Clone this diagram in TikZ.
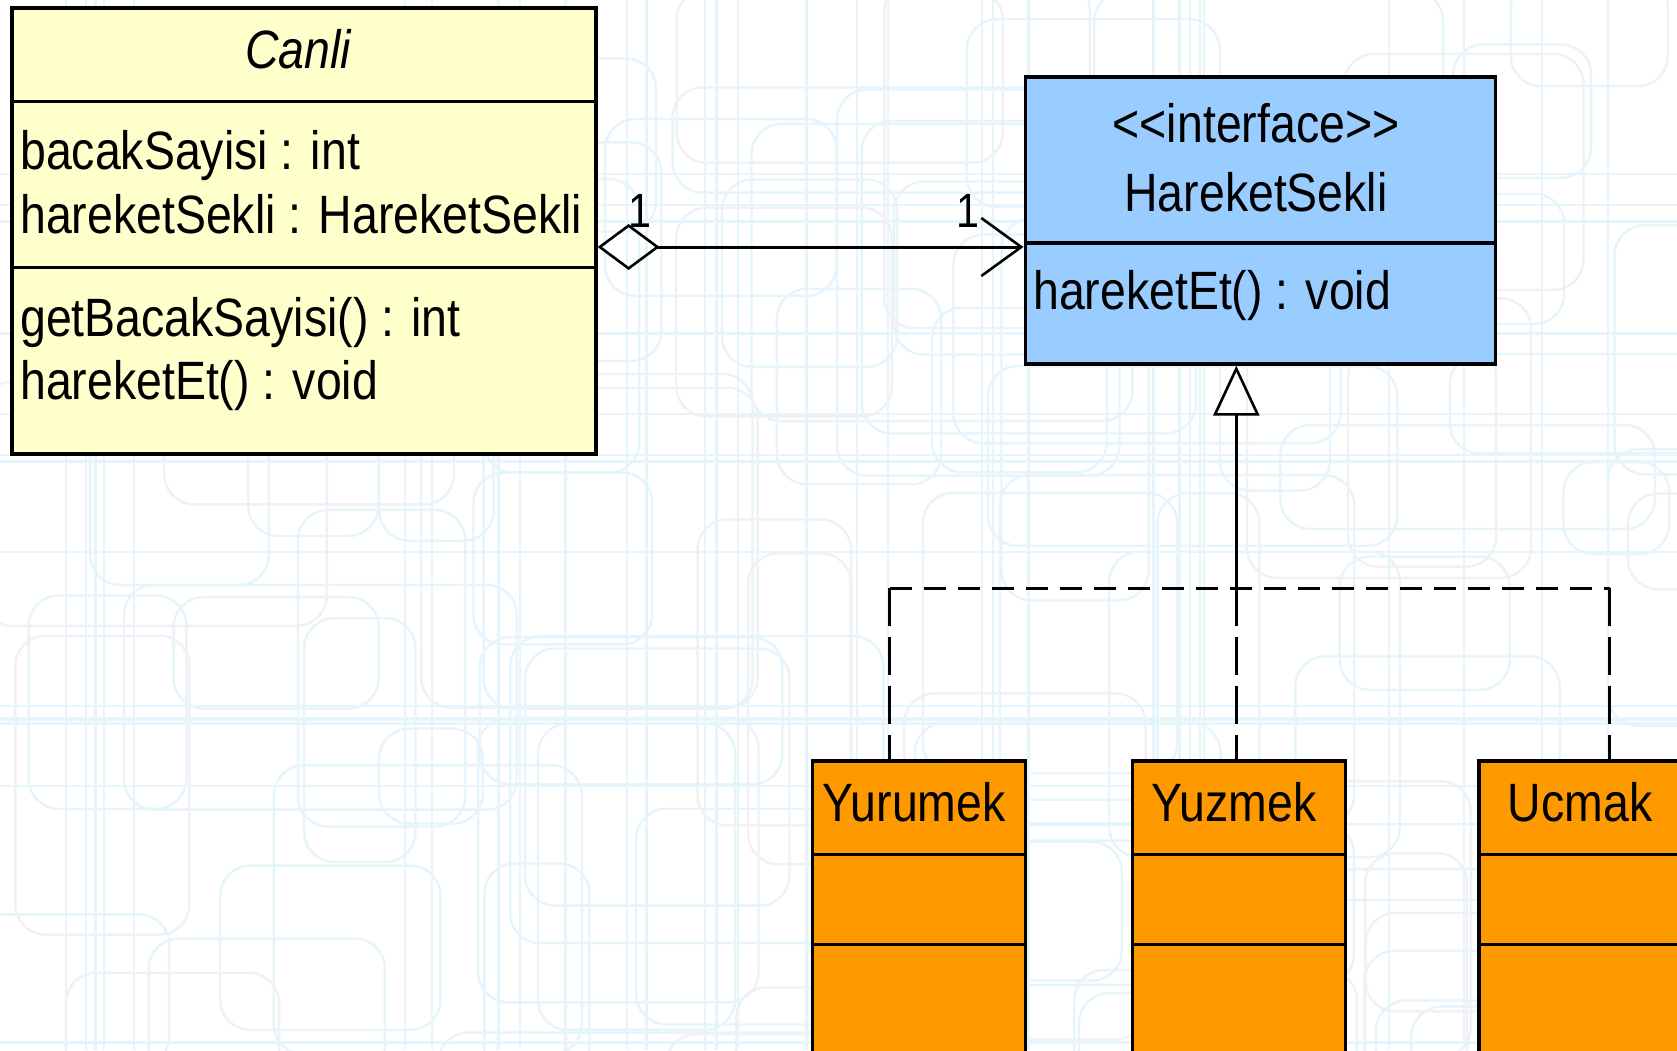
\documentclass[tikz,border=0pt]{standalone}
\usepackage{fontspec}
\setmainfont{Liberation Sans}[FakeStretch=0.86]
\usetikzlibrary{arrows.meta}
\definecolor{canlifill}{HTML}{FFFFCC}
\definecolor{ifill}{HTML}{99CCFF}
\definecolor{ofill}{HTML}{FF9900}
\definecolor{bgline}{HTML}{E6F4FB}
\definecolor{bggray}{HTML}{F1F0F4}
\begin{document}
\begin{tikzpicture}[x=1pt,y=-1pt,
  classbox/.style={draw,line width=3.6pt,anchor=north west,inner sep=0pt},
  sepline/.style={line width=3.6pt},
  txt/.style={font=\fontsize{54}{64}\selectfont,inner sep=0pt,anchor=base west},
  ctxt/.style={font=\fontsize{54}{64}\selectfont,inner sep=0pt,anchor=base},
  conn/.style={line width=3pt},
  bgrect/.style={bgline,line width=2.4pt,rounded corners=30pt}]
\useasboundingbox (0,0) rectangle (1677,1050);
\clip (0,0) rectangle (1677,1050);
\fill[white] (0,0) rectangle (1677,1050);
% decorative background
\pgfmathsetseed{11}
\foreach \i in {1,...,70}{
  \pgfmathsetmacro\bx{rnd*1700-40}
  \pgfmathsetmacro\by{rnd*1080-30}
  \pgfmathsetmacro\bw{100+rnd*320}
  \pgfmathsetmacro\bh{90+rnd*320}
  \draw[bgrect] (\bx,\by) rectangle ++(\bw,\bh);
}
\pgfmathsetseed{23}
\foreach \i in {1,...,20}{
  \pgfmathsetmacro\bx{rnd*1700-40}
  \pgfmathsetmacro\by{rnd*1080-30}
  \pgfmathsetmacro\bw{100+rnd*260}
  \pgfmathsetmacro\bh{90+rnd*260}
  \draw[bgrect,bggray] (\bx,\by) rectangle ++(\bw,\bh);
}
\pgfmathsetseed{5}
\foreach \i in {1,...,30}{
  \pgfmathsetmacro\bx{rnd*1677}
  \draw[bgline,line width=2.4pt] (\bx,0) -- (\bx,1050);
}
\foreach \i in {1,...,14}{
  \pgfmathsetmacro\by{rnd*1050}
  \draw[bgline,line width=2.4pt] (0,\by) -- (1677,\by);
}
% Canli
\node[classbox,fill=canlifill,minimum width=584pt,minimum height=446pt] (canli) at (10,6) {};
\draw[sepline] (10,101.6) -- (593.6,101.6);
\draw[sepline] (10,267.4) -- (593.6,267.4);
\node[ctxt,font=\fontsize{54}{64}\selectfont\itshape] (canliname) at (298,68) {Canli};
\node[txt] (a1) at (20,169) {bacakSayisi : int};
\node[txt] (a2) at (20,233) {hareketSekli : HareketSekli};
\node[txt] (m1) at (20,336) {getBacakSayisi() : int};
\node[txt] (m2) at (20,399) {hareketEt() : void};
% HareketSekli
\node[classbox,fill=ifill,minimum width=470pt,minimum height=287pt] (hs) at (1023.5,75) {};
\draw[sepline] (1023.5,242.8) -- (1493.5,242.8);
\node[ctxt] (stereo) at (1256,142) {<\kern0pt<interface>\kern0pt>};
\node[ctxt] (hsname) at (1256,211) {HareketSekli};
\node[txt] (hsm) at (1033,309) {hareketEt() : void};
% concrete classes
\node[classbox,fill=ofill,minimum width=213pt,minimum height=320pt] (yur) at (810.7,759.3) {};
\node[classbox,fill=ofill,minimum width=213pt,minimum height=320pt] (yuz) at (1130.5,759.3) {};
\node[classbox,fill=ofill,minimum width=240pt,minimum height=320pt] (ucm) at (1477,759.3) {};
\foreach \n in {yur,yuz,ucm}{
  \draw[sepline] (\n.north west |- 0,854.5) -- (\n.north east |- 0,854.5);
  \draw[sepline] (\n.north west |- 0,944.4) -- (\n.north east |- 0,944.4);
}
\node[ctxt] at (914,821) {Yurumek};
\node[ctxt] at (1234,821) {Yuzmek};
\node[ctxt] at (1580,821) {Ucmak};
% aggregation
\coordinate (aggS) at (canli.east |- 0,247);
\coordinate (aggE) at (hs.west |- 0,247);
\draw[conn,{Diamond[open,length=62pt,width=46pt,line width=2.6pt]}-{Straight Barb[length=40pt,width=58pt,line width=2.6pt]}] (aggS) -- (aggE);
\node[ctxt,font=\fontsize{48}{56}\selectfont] (mult1) at (640,227) {1};
\node[ctxt,font=\fontsize{48}{56}\selectfont] (mult2) at (968,227) {1};
% realization
\coordinate (junc) at (1236.3,588.2);
\coordinate (jl) at (889.8,588.2);
\coordinate (jr) at (1609.5,588.2);
\draw[conn,-{Triangle[open,length=50pt,width=46pt,line width=2.6pt]}] (junc) -- (junc |- hs.south);
\draw[conn,dash pattern=on 22pt off 12pt] (jl) -- (jr);
\draw[conn,dash pattern=on 38pt off 11pt] (jl) -- (jl |- yur.north);
\draw[conn,dash pattern=on 38pt off 11pt] (junc) -- (junc |- yuz.north);
\draw[conn,dash pattern=on 38pt off 11pt] (jr) -- (jr |- ucm.north);
\end{tikzpicture}
\end{document}
